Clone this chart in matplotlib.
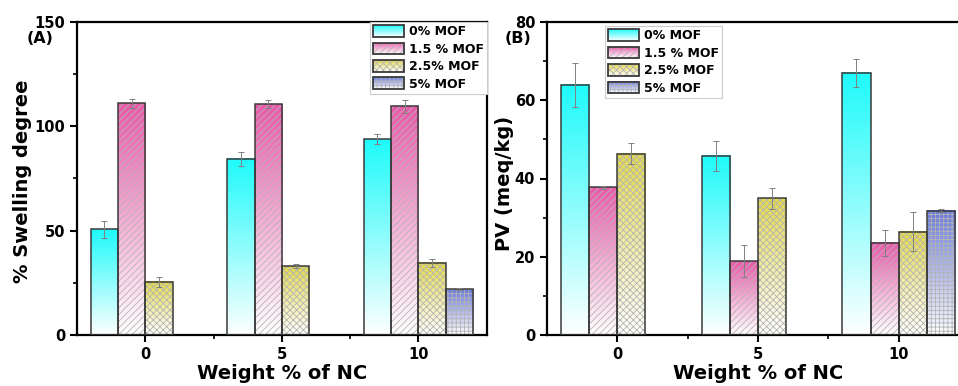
import numpy as np
import matplotlib
matplotlib.use("Agg")
import matplotlib.pyplot as plt
from matplotlib.patches import Rectangle
from matplotlib.legend_handler import HandlerBase
from matplotlib.colors import to_rgb
from matplotlib.ticker import AutoMinorLocator, FixedLocator

plt.rcParams["font.family"] = ["DejaVu Sans"]
plt.rcParams["font.weight"] = "bold"
plt.rcParams["hatch.linewidth"] = 0.6

# ── data ──────────────────────────────────────────────────────────────────────
nc = [0, 5, 10]
labels = ["0% MOF", "1.5 % MOF", "2.5% MOF", "5% MOF"]

swell = [
    [50.6, 84.5, 93.8],
    [111.0, 110.7, 109.6],
    [25.5, 32.9, 34.6],
    [np.nan, np.nan, 22.0],
]
swell_err = [
    [4.0, 3.3, 2.5],
    [2.0, 1.7, 3.0],
    [2.5, 1.0, 1.8],
    [np.nan, np.nan, 0.5],
]

pv = [
    [63.9, 45.8, 67.0],
    [37.7, 18.9, 23.6],
    [46.3, 34.9, 26.4],
    [np.nan, np.nan, 31.8],
]
pv_err = [
    [5.5, 3.8, 3.5],
    [0.5, 4.0, 3.3],
    [2.7, 2.6, 5.0],
    [np.nan, np.nan, 0.3],
]

# ── style ─────────────────────────────────────────────────────────────────────
COLORS = ["#1EFAFA", "#E85AAA", "#E2D84C", "#6878D8"]
HATCHES = [None, "/////", "xxxxx", "++++"]
HATCH_COLOR = "#B4B4B4"
EDGE = "#3A3A3A"
OFFSETS = [-2, -1, 0, 1]


def gradient(color, n=256):
    top = np.array(to_rgb(color))
    t = np.linspace(0, 1, n)[:, None]
    return (top + (1 - top) * t)[:, None, :]


class GradientHandler(HandlerBase):
    def __init__(self, color, hatch):
        super().__init__()
        self.color, self.hatch = color, hatch

    def create_artists(self, legend, orig_handle, xdescent, ydescent,
                       width, height, fontsize, trans):
        x0, y0 = -xdescent, -ydescent
        top = np.array(to_rgb(self.color))
        n = 12
        arts = []
        for i in range(n):
            f = (i + 0.5) / n
            c = 1 - f * (1 - top)
            arts.append(Rectangle((x0, y0 + height * i / n), width, height / n * 1.05,
                                  facecolor=c, edgecolor="none", lw=0, transform=trans))
        if self.hatch:
            arts.append(Rectangle((x0, y0), width, height, facecolor="none",
                                  edgecolor=HATCH_COLOR, hatch=self.hatch, lw=0,
                                  transform=trans))
        arts.append(Rectangle((x0, y0), width, height, fill=False,
                              edgecolor=EDGE, lw=1.3, transform=trans))
        return arts


def draw_panel(ax, values, errors, ylim, ymajor, ylabel, ylabel_xy):
    for k in range(len(labels)):
        vals = np.array(values[k], dtype=float)
        errs = np.array(errors[k], dtype=float)
        ok = ~np.isnan(vals)
        xs = np.array(nc, dtype=float)[ok] + OFFSETS[k]
        bars = ax.bar(xs, vals[ok], width=1, align="edge", color="none",
                      edgecolor="none", lw=0, zorder=1)
        for p in bars:
            x0, w, h = p.get_x(), p.get_width(), p.get_height()
            ax.imshow(gradient(COLORS[k]), extent=[x0, x0 + w, 0, h], aspect="auto",
                      origin="upper", interpolation="bilinear", zorder=1)
        if HATCHES[k]:
            ax.bar(xs, vals[ok], width=1, align="edge", color="none",
                   edgecolor=HATCH_COLOR, hatch=HATCHES[k], lw=0, zorder=2)
        ax.bar(xs, vals[ok], width=1, align="edge", fill=False,
               edgecolor=EDGE, lw=1.1, zorder=3)
        ax.errorbar(xs + 0.5, vals[ok], yerr=errs[ok], fmt="none", ecolor="#808080",
                    elinewidth=0.7, capsize=2.2, capthick=0.7, zorder=4)

    ax.set_xlim(-2.5, 12.5)
    ax.set_ylim(*ylim)
    ax.set_xticks(nc)
    ax.set_yticks(ymajor)
    ax.xaxis.set_minor_locator(FixedLocator([2.5, 7.5]))
    ax.yaxis.set_minor_locator(AutoMinorLocator(2))
    ax.tick_params(which="both", direction="out", top=False, right=False,
                   labelsize=10.5, width=1.5)
    ax.tick_params(which="major", length=5, pad=3.5)
    ax.tick_params(which="minor", length=3, width=1.2)
    for sp in ax.spines.values():
        sp.set_linewidth(1.6)
        sp.set_color("black")
    ax.set_xlabel("Weight % of NC", fontsize=14, fontweight="bold")
    ax.xaxis.set_label_coords(0.5, -0.093)
    ax.set_ylabel(ylabel, fontsize=14, fontweight="bold")
    ax.yaxis.set_label_coords(*ylabel_xy)


fig = plt.figure(figsize=(9.58, 3.86), dpi=100, facecolor="white")
W, H = 958, 386
axA = fig.add_axes([77 / W, 51 / H, 409.7 / W, 313 / H])
axB = fig.add_axes([547 / W, 51 / H, 422 / W, 313 / H])

draw_panel(axA, swell, swell_err, (0, 150), [0, 50, 100, 150],
           "% Swelling degree", (-0.11, 0.49))
draw_panel(axB, pv, pv_err, (0, 80), [0, 20, 40, 60, 80],
           "PV (meq/kg)", (-0.078, 0.484))

handles = [Rectangle((0, 0), 1, 1) for _ in labels]
hmap = {h: GradientHandler(c, ht) for h, c, ht in zip(handles, COLORS, HATCHES)}
leg_kw = dict(handler_map=hmap, fontsize=9, handlelength=2.5, handleheight=1.05,
              labelspacing=0.35, handletextpad=0.35, borderpad=0.25,
              borderaxespad=0, fancybox=False, framealpha=1, edgecolor="#CCCCCC")
legA = axA.legend(handles, labels, loc="upper right", bbox_to_anchor=(1.0, 1.0), **leg_kw)
legB = axB.legend(handles, labels, loc="upper left", bbox_to_anchor=(0.137, 0.987), **leg_kw)
for leg in (legA, legB):
    leg.get_frame().set_linewidth(0.8)
    leg.set_zorder(10)

fig.text(40 / W, 1 - 38.5 / H, "(A)", fontsize=11.5, fontweight="bold",
         ha="center", va="center")
fig.text(517.5 / W, 1 - 38.5 / H, "(B)", fontsize=11.5, fontweight="bold",
         ha="center", va="center")

fig.savefig("out.png", dpi=100, facecolor="white")
